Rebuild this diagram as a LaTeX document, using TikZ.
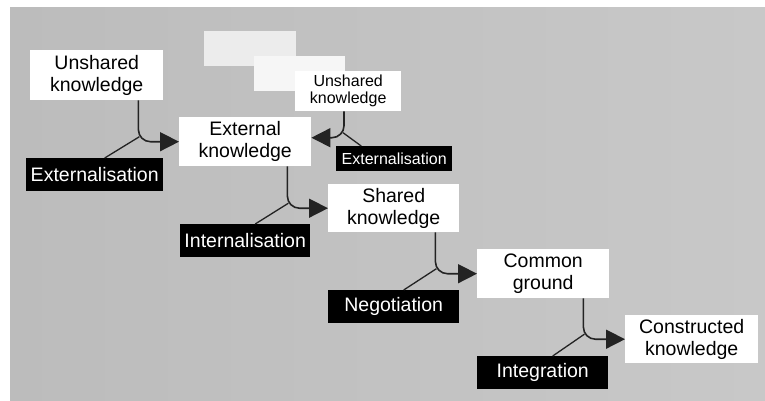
\documentclass[tikz,border=0pt]{standalone}
\usepackage{fontspec}
\setmainfont{Liberation Sans}
\usetikzlibrary{arrows.meta,calc}
\definecolor{bgL}{RGB}{188,188,188}
\definecolor{bgR}{RGB}{200,200,200}
\definecolor{ln}{RGB}{35,35,35}
\definecolor{ghostA}{RGB}{236,236,236}
\definecolor{ghostB}{RGB}{246,246,246}
\begin{document}
\begin{tikzpicture}[x=1pt,y=-1pt,
  kbox/.style={fill=white, inner sep=0pt, anchor=north west, align=center,
    font=\fontsize{19.5}{22}\selectfont},
  kboxs/.style={kbox, font=\fontsize{16}{17}\selectfont},
  ghost/.style={inner sep=0pt, anchor=north west},
  proc/.style={fill=black, text=white, inner sep=0pt, anchor=north west,
    font=\fontsize{19.5}{22}\selectfont},
  procs/.style={proc, font=\fontsize{16}{17}\selectfont},
  flow/.style={draw=ln, line width=1.6pt, rounded corners=12pt,
    -{Triangle[length=19pt,width=19pt]}},
  branch/.style={draw=ln, line width=1.3pt}]

% background
\useasboundingbox (0,0) rectangle (765,400);
\fill[white] (0,0) rectangle (765,400);
\shade[left color=bgL, right color=bgR] (10,7) rectangle (765,400);

% ghost boxes
\node[ghost, fill=ghostA, minimum width=92pt, minimum height=35pt] (g1) at (204,31) {};
\node[ghost, fill=ghostB, minimum width=91pt, minimum height=35pt] (g2) at (254,56) {};

% knowledge boxes
\node[kbox, minimum width=133pt, minimum height=50pt] (us1) at (30,50) {Unshared\\knowledge};
\node[kbox, minimum width=132pt, minimum height=49pt] (ext) at (179,117) {External\\knowledge};
\node[kboxs, minimum width=106pt, minimum height=40pt] (us2) at (295,71) {Unshared\\knowledge};
\node[kbox, minimum width=131pt, minimum height=48pt] (sh) at (328,184) {Shared\\knowledge};
\node[kbox, minimum width=132pt, minimum height=49pt] (cg) at (477,249) {Common\\ground};
\node[kbox, minimum width=133pt, minimum height=48pt] (ck) at (625,315) {Constructed\\knowledge};

% process labels
\node[proc, minimum width=137pt, minimum height=33pt] (p1) at (26,158) {Externalisation};
\node[procs, minimum width=116pt, minimum height=25pt] (p5) at (336,146) {Externalisation};
\node[proc, minimum width=130pt, minimum height=33pt] (p2) at (180,224) {Internalisation};
\node[proc, minimum width=131pt, minimum height=33pt] (p3) at (328,290) {Negotiation};
\node[proc, minimum width=131pt, minimum height=33pt] (p4) at (477,356) {Integration};

% start points of the connectors
\coordinate (s1) at ([xshift=-25pt]us1.south east);
\coordinate (s2) at ([xshift=-24pt]ext.south east);
\coordinate (s3) at ([xshift=-24pt]sh.south east);
\coordinate (s4) at ([xshift=-26pt]cg.south east);
\coordinate (s5) at ([xshift=49pt]us2.south west);
\coordinate (t5) at ([yshift=4pt]ext.east);

% corners
\coordinate (c1) at (s1 |- ext.west);
\coordinate (c2) at (s2 |- sh.west);
\coordinate (c3) at (s3 |- cg.west);
\coordinate (c4) at (s4 |- ck.west);
\coordinate (c5) at (s5 |- t5);

% connectors
\draw[flow] (s1) |- (ext.west);
\draw[flow] (s2) |- (sh.west);
\draw[flow] (s3) |- (cg.west);
\draw[flow] (s4) |- (ck.west);
\draw[flow] (s5) |- (t5);

% branches to the process labels
\draw[branch] ([xshift=10pt]p1.north) -- ([xshift=1pt,yshift=5pt]c1);
\draw[branch] ([xshift=10pt]p2.north) -- ([xshift=1pt,yshift=5pt]c2);
\draw[branch] ([xshift=10pt]p3.north) -- ([xshift=1pt,yshift=5pt]c3);
\draw[branch] ([xshift=10pt]p4.north) -- ([xshift=1pt,yshift=5pt]c4);
\draw[branch] ([xshift=-33pt]p5.north) -- ([xshift=-1pt,yshift=5pt]c5);
\end{tikzpicture}
\end{document}
